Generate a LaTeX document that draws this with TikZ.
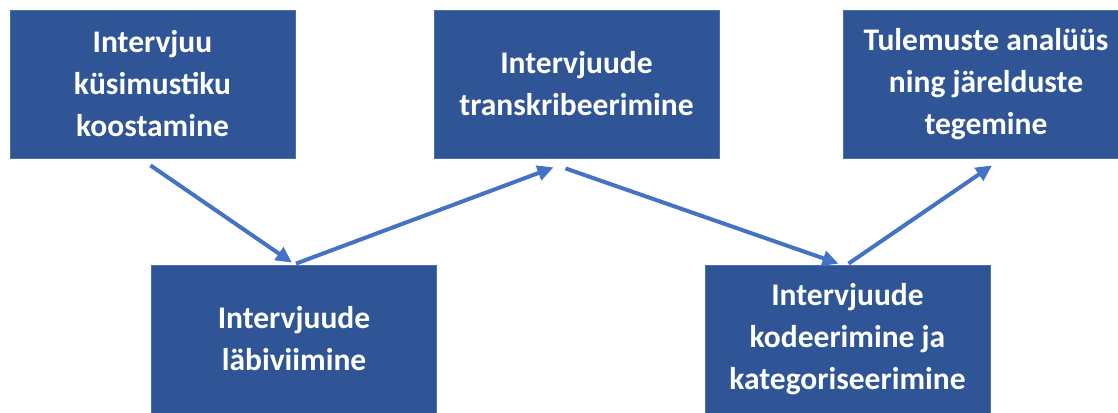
\documentclass[tikz,border=0pt]{standalone}
\usepackage{fontspec}
\setmainfont{Carlito}
\usetikzlibrary{arrows.meta, positioning, calc}
\definecolor{boxblue}{HTML}{2F5597}
\definecolor{edgeblue}{HTML}{4A6FB0}
\definecolor{arrowblue}{HTML}{4472C4}
\tikzset{
  stepbox/.style={fill=boxblue, draw=edgeblue, line width=0.8pt, text=white,
    minimum width=285pt, minimum height=148pt, align=center,
    font=\fontsize{31.5}{42}\selectfont\bfseries, inner sep=0pt},
  flow/.style={arrowblue, line width=4pt, -{Triangle[length=16pt,width=15pt]}}
}
\begin{document}
\begin{tikzpicture}[x=1pt, y=-1pt]
  % canvas
  \useasboundingbox (0,0) rectangle (1118,412);

  % process steps
  \node[stepbox] (plan) at (152.5,84) {Intervjuu\\küsimustiku\\koostamine};
  \node[stepbox] (conduct) at (294,339) {Intervjuude\\läbiviimine};
  \node[stepbox] (transcribe) at (576.5,84) {Intervjuude\\transkribeerimine};
  \node[stepbox] (code) at (847.5,339) {Intervjuude\\kodeerimine ja\\kategoriseerimine};
  \node[stepbox] (analyse) at (986,84) {Tulemuste analüüs\\ning järelduste\\tegemine};

  % connectors
  \draw[flow] ([shift={(-2,7)}]plan.south) -- ([shift={(-2,-2)}]conduct.north);
  \draw[flow] ([shift={(2,-1)}]conduct.north) -- ([shift={(-23,9)}]transcribe.south);
  \draw[flow] ([shift={(-11,10)}]transcribe.south) -- ([shift={(-9,-1)}]code.north);
  \draw[flow] ([shift={(1,-1)}]code.north) -- ([shift={(6,7)}]analyse.south);
\end{tikzpicture}
\end{document}
